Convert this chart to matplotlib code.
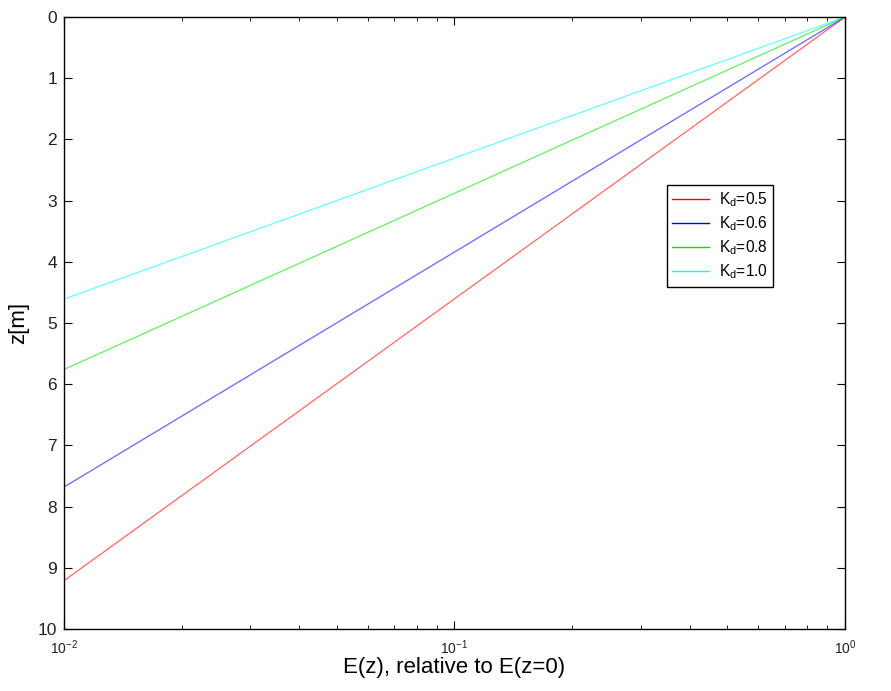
import matplotlib
matplotlib.use('Agg')
import matplotlib.pyplot as plt
import numpy as np

plt.rcParams['font.family'] = ['Liberation Sans', 'DejaVu Sans']
plt.rcParams['mathtext.fontset'] = 'custom'
plt.rcParams['mathtext.rm'] = 'Liberation Sans'
plt.rcParams['mathtext.it'] = 'Liberation Sans'

# endpoints of each profile (straight lines on log-x axis)
E_vals = [0.01, 1.0]
kd_labels = ['0.5', '0.6', '0.8', '1.0']
z_kd05 = [9.21, 0.0]
z_kd06 = [7.68, 0.0]
z_kd08 = [5.76, 0.0]
z_kd10 = [4.61, 0.0]
series = [z_kd05, z_kd06, z_kd08, z_kd10]
colors = ['#ff0000', '#0000ff', '#00dd00', '#00ffff']

fig = plt.figure(figsize=(8.91, 6.91), dpi=100)
ax = fig.add_axes([0.0718, 0.0897, 0.8766, 0.8857])

for z, c, k in zip(series, colors, kd_labels):
    ax.plot(E_vals, z, color=c, lw=1.0, alpha=0.55, label=r'K$_{\mathrm{d}}$=' + k)

ax.set_xscale('log')
ax.set_xlim(0.01, 1)
ax.set_ylim(10, 0)
ax.set_yticks(range(0, 11))
ax.tick_params(which='both', direction='in', top=True, right=True, labelcolor='#222222')
ax.tick_params(axis='y', labelsize=12.5, length=6, pad=5)
ax.tick_params(axis='x', which='major', labelsize=10, length=6, pad=7)
ax.tick_params(axis='x', which='minor', length=3)
for s in ax.spines.values():
    s.set_linewidth(1.0)

ax.set_xlabel('E(z), relative to E(z=0)', fontsize=16, labelpad=0)
ax.set_ylabel('z[m]', fontsize=16, labelpad=6)

leg = ax.legend(loc='upper left', bbox_to_anchor=(0.7615, 0.739), fontsize=11.2,
                fancybox=False, edgecolor='black', framealpha=1,
                handlelength=2.4, handletextpad=0.6, borderpad=0.35, labelspacing=0.35)
leg.get_frame().set_linewidth(1.0)
for line in leg.get_lines():
    line.set_alpha(1.0)

fig.savefig('out.png', dpi=100)
